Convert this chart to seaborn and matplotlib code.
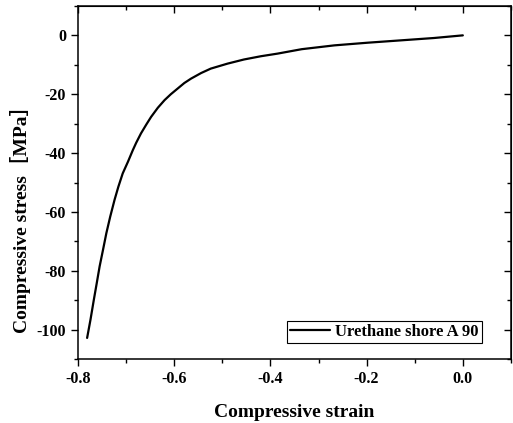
import matplotlib
matplotlib.use("Agg")
import matplotlib.pyplot as plt
import seaborn as sns
import pandas as pd
from matplotlib.ticker import MultipleLocator

strain = [-0.781, -0.774, -0.767, -0.761, -0.755, -0.748, -0.741, -0.733, -0.724,
          -0.716, -0.707, -0.696, -0.686, -0.679, -0.669, -0.658, -0.648, -0.634,
          -0.620, -0.607, -0.593, -0.579, -0.565, -0.544, -0.524, -0.489, -0.455,
          -0.420, -0.385, -0.335, -0.267, -0.198, -0.129, -0.060, 0.0]
stress = [-102.8, -96.6, -89.8, -84.2, -78.5, -72.9, -67.2, -61.6, -55.9,
          -51.4, -46.9, -42.9, -39.0, -36.5, -33.3, -30.3, -27.7, -24.6,
          -22.0, -20.0, -18.1, -16.2, -14.7, -12.8, -11.3, -9.6, -8.2,
          -7.1, -6.2, -4.7, -3.4, -2.5, -1.7, -0.9, 0.0]
series_name = "Urethane shore A 90"
x_ticks = [-0.8, -0.6, -0.4, -0.2, 0.0]
y_ticks = [0, -20, -40, -60, -80, -100]

df = pd.DataFrame({"strain": strain, "stress": stress, "series": series_name})

sns.set_style("ticks")
plt.rcParams["font.family"] = ["Liberation Serif", "Noto Sans CJK JP"]
plt.rcParams["font.weight"] = "bold"
plt.rcParams["text.color"] = "black"
plt.rcParams["axes.labelcolor"] = "black"
plt.rcParams["xtick.color"] = "black"
plt.rcParams["ytick.color"] = "black"
plt.rcParams["axes.edgecolor"] = "black"

fig = plt.figure(figsize=(5.13, 4.23), dpi=100)
ax = fig.add_axes([0.152, 0.151, 0.844, 0.835])

sns.lineplot(data=df, x="strain", y="stress", hue="series", palette=["black"],
             sort=False, linewidth=1.6, ax=ax)

ax.set_xlim(-0.8, 0.1)
ax.set_ylim(-110, 10)
ax.set_xticks(x_ticks)
ax.set_xticklabels([f"{v:.1f}" for v in x_ticks])
ax.set_yticks(y_ticks)
ax.set_yticklabels([str(v) for v in y_ticks])
ax.xaxis.set_minor_locator(MultipleLocator(0.1))
ax.yaxis.set_minor_locator(MultipleLocator(10))

ax.tick_params(axis="both", which="major", direction="out", length=5, width=1.0,
               labelsize=11.5, colors="black")
ax.tick_params(axis="both", which="minor", direction="out", length=3, width=1.0)
for lab in ax.get_xticklabels() + ax.get_yticklabels():
    lab.set_fontweight("bold")

# mirrored ticks on top/right pointing inward
axt = ax.secondary_xaxis("top")
axt.set_xticks(x_ticks)
axt.xaxis.set_minor_locator(MultipleLocator(0.1))
axt.tick_params(which="major", direction="in", length=5, width=1.0, labeltop=False,
                colors="black")
axt.tick_params(which="minor", direction="in", length=3, width=1.0)
axr = ax.secondary_yaxis("right")
axr.set_yticks(y_ticks)
axr.yaxis.set_minor_locator(MultipleLocator(10))
axr.tick_params(which="major", direction="in", length=5, width=1.0, labelright=False,
                colors="black")
axr.tick_params(which="minor", direction="in", length=3, width=1.0)

for s in ax.spines.values():
    s.set_linewidth(1.1)
    s.set_color("black")

ax.set_xlabel("Compressive strain", fontsize=14, fontweight="bold", labelpad=12,
              color="black")
ax.set_ylabel("Compressive stress［MPa］", fontsize=14, fontweight="bold",
              color="black")
ax.yaxis.set_label_coords(-0.108, 0.41)

leg = ax.legend(loc="lower right", bbox_to_anchor=(0.933, 0.045), frameon=True,
                fancybox=False, framealpha=1, edgecolor="black",
                prop={"weight": "bold", "size": 12}, handlelength=2.4,
                borderpad=0.2, handletextpad=0.3, borderaxespad=0)
leg.get_frame().set_linewidth(0.8)
for t in leg.get_texts():
    t.set_color("black")

fig.savefig("out.png", dpi=100)
